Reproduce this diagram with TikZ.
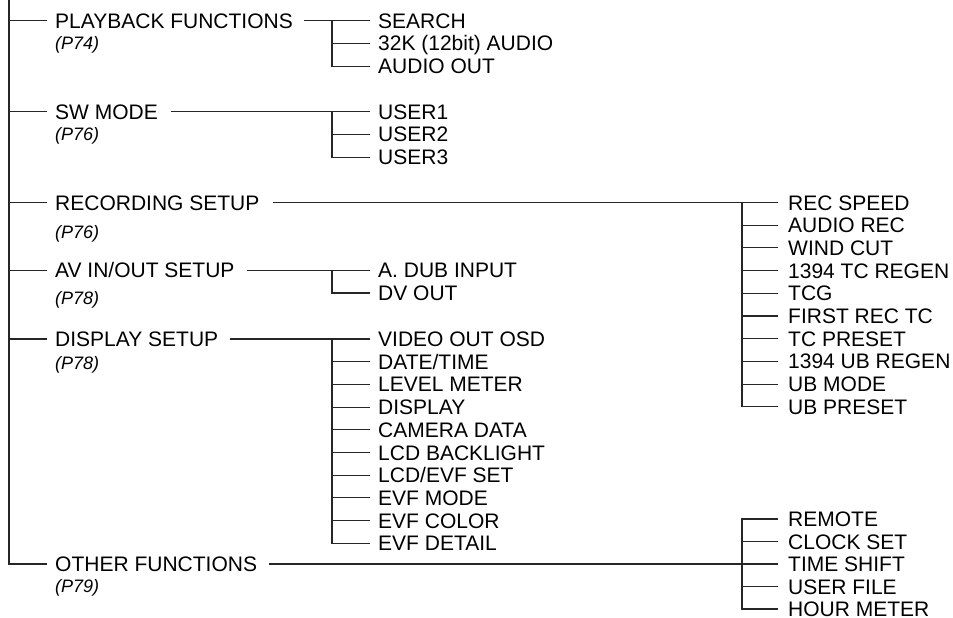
\documentclass[tikz,border=0pt]{standalone}
\usepackage{fontspec}
\setmainfont{Liberation Sans}
\begin{document}
\begin{tikzpicture}[x=1pt,y=-1pt,
  lbl/.style={anchor=west, inner sep=0pt, text height=15pt, text depth=0pt, font=\fontsize{21}{25}\selectfont},
  pref/.style={anchor=west, inner sep=0pt, text height=13pt, text depth=0pt, font=\itshape\fontsize{18}{20}\selectfont},
  link/.style={line width=1.1pt, draw=black!85}]
\useasboundingbox (0,0) rectangle (953,618);
\coordinate (top) at (9,-3);
\coordinate (jl) at (332,0);
\coordinate (jr) at (742,0);
% main items
\node[lbl] (pb) at (55,20.7) {PLAYBACK FUNCTIONS};
\node[pref] (pbp) at (55,43.3) {(P74)};
\node[lbl] (sw) at (55,111.7) {SW MODE};
\node[pref] (swp) at (55,133.5) {(P76)};
\node[lbl] (rc) at (55,202.5) {RECORDING SETUP};
\node[pref] (rcp) at (55,232) {(P76)};
\node[lbl] (av) at (55,270.3) {AV IN/OUT SETUP};
\node[pref] (avp) at (55,298) {(P78)};
\node[lbl] (ds) at (55,339) {DISPLAY SETUP};
\node[pref] (dsp) at (55,363) {(P78)};
\node[lbl] (of) at (55,564) {OTHER FUNCTIONS};
\node[pref] (ofp) at (55,586) {(P79)};
% root tree
\draw[link] (top) |- ([xshift=-8pt]of.west);
\foreach \n in {pb,sw,rc,av,ds}
  \draw[link] (top |- \n.west) -- ([xshift=-8pt]\n.west);
% children
\foreach \t [count=\i from 0] in {SEARCH,32K (12bit) AUDIO,AUDIO OUT}
  \node[lbl] (pbc\i) at (378,20.7+22.7*\i) {\t};
\foreach \t [count=\i from 0] in {USER1,USER2,USER3}
  \node[lbl] (swc\i) at (378,111.7+22.7*\i) {\t};
\foreach \t [count=\i from 0] in {A. DUB INPUT,DV OUT}
  \node[lbl] (avc\i) at (378,270.3+22.7*\i) {\t};
\foreach \t [count=\i from 0] in {VIDEO OUT OSD,DATE/TIME,LEVEL METER,DISPLAY,CAMERA DATA,LCD BACKLIGHT,LCD/EVF SET,EVF MODE,EVF COLOR,EVF DETAIL}
  \node[lbl] (dsc\i) at (378,339+22.7*\i) {\t};
\foreach \t [count=\i from 0] in {REC SPEED,AUDIO REC,WIND CUT,1394 TC REGEN,TCG,FIRST REC TC,TC PRESET,1394 UB REGEN,UB MODE,UB PRESET}
  \node[lbl] (rcc\i) at (788,202.5+22.7*\i) {\t};
\foreach \t [count=\i from 0] in {REMOTE,CLOCK SET,TIME SHIFT,USER FILE,HOUR METER}
  \node[lbl] (ofc\i) at (788,519+22.5*\i) {\t};
% parent to first child lines
\draw[link] ([xshift=11pt]pb.east) -- ([xshift=-8pt]pbc0.west);
\draw[link] ([xshift=13pt]sw.east) -- ([xshift=-8pt]swc0.west);
\draw[link] ([xshift=12pt]av.east) -- ([xshift=-8pt]avc0.west);
\draw[link] ([xshift=12pt]ds.east) -- ([xshift=-8pt]dsc0.west);
\draw[link] ([xshift=13pt]rc.east) -- ([xshift=-10pt]rcc0.west);
\draw[link] ([xshift=12pt]of.east) -- ([xshift=-10pt]ofc2.west);
% verticals
\draw[link] (jl |- pbc0.west) |- ([xshift=-8pt]pbc2.west);
\draw[link] (jl |- swc0.west) |- ([xshift=-8pt]swc2.west);
\draw[link] (jl |- avc0.west) |- ([xshift=-8pt]avc1.west);
\draw[link] (jl |- dsc0.west) |- ([xshift=-8pt]dsc9.west);
\draw[link] (jr |- rcc0.west) |- ([xshift=-10pt]rcc9.west);
\draw[link] (jr |- ofc0.west) |- ([xshift=-10pt]ofc4.west);
\draw[link] ([xshift=-10pt]ofc0.west) -| (jr |- ofc2.west);
% middle ticks
\draw[link] (jl |- pbc1.west) -- ([xshift=-8pt]pbc1.west);
\draw[link] (jl |- swc1.west) -- ([xshift=-8pt]swc1.west);
\foreach \i in {1,...,8} {
  \draw[link] (jl |- dsc\i.west) -- ([xshift=-8pt]dsc\i.west);
  \draw[link] (jr |- rcc\i.west) -- ([xshift=-10pt]rcc\i.west);
}
\foreach \i in {1,3}
  \draw[link] (jr |- ofc\i.west) -- ([xshift=-10pt]ofc\i.west);
\end{tikzpicture}
\end{document}
